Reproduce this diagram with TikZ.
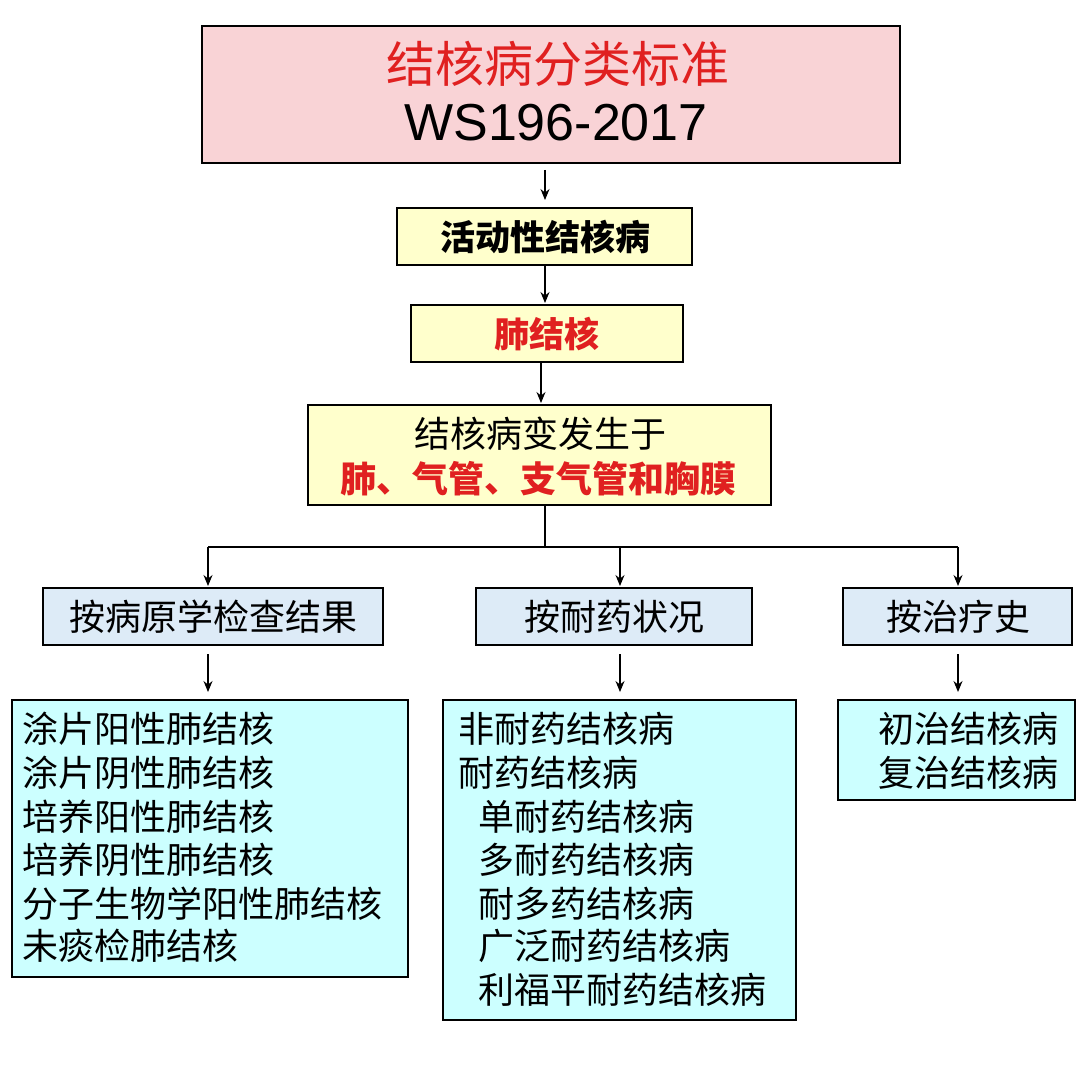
\documentclass[tikz,border=0pt]{standalone}
\usepackage{fontspec}
\setmainfont{Noto Sans CJK SC}
\newfontfamily\wsfont{Liberation Sans}
\usetikzlibrary{arrows.meta}
\definecolor{pinkf}{HTML}{F9D3D6}
\definecolor{yel}{HTML}{FFFFCC}
\definecolor{blu}{HTML}{DDEBF7}
\definecolor{cya}{HTML}{CCFFFF}
\definecolor{rd}{HTML}{E02020}
\tikzset{x=1pt,y=-1pt,
 bx/.style={draw=black,line width=1.2pt},
 ar/.style={-{Stealth[length=11pt,width=9pt]},line width=1.1pt},
 tx/.style={inner sep=0pt,anchor=west,font=\fontsize{36}{40}\selectfont}}
\begin{document}
\begin{tikzpicture}
\useasboundingbox (0,0) rectangle (1080,1083);
\fill[white] (0,0) rectangle (1080,1083);
\draw[bx,fill=pinkf] (202,26) rectangle (900,163);
\node[inner sep=0pt,text=rd,font=\fontsize{49}{52}\selectfont] (t1) at (558,64) {结核病分类标准};
\node[inner sep=0pt,font=\wsfont\fontsize{52}{56}\selectfont] (t2) at (556,123) {WS196-2017};
\draw[bx,fill=yel] (397,208) rectangle (692,265);
\node[inner sep=0pt,font=\bfseries\fontsize{35}{38}\selectfont] (b2) at (545,237) {活动性结核病};
\draw[bx,fill=yel] (411,305) rectangle (683,362);
\node[inner sep=0pt,text=rd,font=\bfseries\fontsize{35}{38}\selectfont] (b3) at (547,334) {肺结核};
\draw[bx,fill=yel] (308,405) rectangle (771,505);
\node[inner sep=0pt,font=\fontsize{36}{40}\selectfont] (b4a) at (540,434) {结核病变发生于};
\node[inner sep=0pt,text=rd,font=\bfseries\fontsize{36}{40}\selectfont] (b4b) at (538,479) {肺、气管、支气管和胸膜};
\coordinate (a1s) at (545,170); \coordinate (a1e) at (545,200);
\draw[ar] (a1s) -- (a1e);
\coordinate (a2s) at (545,265); \coordinate (a2e) at (545,303);
\draw[ar] (a2s) -- (a2e);
\coordinate (a3s) at (541,362); \coordinate (a3e) at (541,403);
\draw[ar] (a3s) -- (a3e);
\coordinate (s0) at (545,505); \coordinate (s1) at (545,547);
\coordinate (hl) at (208,547); \coordinate (hr) at (958,547); \coordinate (hm) at (620,547);
\draw[line width=1.1pt] (s0)--(s1) (hl)--(hr);
\coordinate (e1) at (208,586); \coordinate (e2) at (620,586); \coordinate (e3) at (958,586);
\draw[ar] (hl)--(e1); \draw[ar] (hm)--(e2); \draw[ar] (hr)--(e3);
\draw[bx,fill=blu] (43,588) rectangle (383,645);
\node[inner sep=0pt,font=\fontsize{36}{40}\selectfont] (c1) at (213,617) {按病原学检查结果};
\draw[bx,fill=blu] (476,588) rectangle (752,645);
\node[inner sep=0pt,font=\fontsize{36}{40}\selectfont] (c2) at (614,617) {按耐药状况};
\draw[bx,fill=blu] (843,588) rectangle (1072,645);
\node[inner sep=0pt,font=\fontsize{36}{40}\selectfont] (c3) at (958,617) {按治疗史};
\coordinate (f1s) at (208,654); \coordinate (f1e) at (208,692);
\coordinate (f2s) at (620,654); \coordinate (f2e) at (620,692);
\coordinate (f3s) at (958,654); \coordinate (f3e) at (958,692);
\draw[ar] (f1s)--(f1e); \draw[ar] (f2s)--(f2e); \draw[ar] (f3s)--(f3e);
\draw[bx,fill=cya] (12,700) rectangle (408,977);
\draw[bx,fill=cya] (443,700) rectangle (796,1020);
\draw[bx,fill=cya] (838,700) rectangle (1075,800);
\node[tx] (l1) at (22,729) {涂片阳性肺结核};
\node[tx] (l2) at (22,773) {涂片阴性肺结核};
\node[tx] (l3) at (22,817) {培养阳性肺结核};
\node[tx] (l4) at (22,860) {培养阴性肺结核};
\node[tx] (l5) at (22,904) {分子生物学阳性肺结核};
\node[tx] (l6) at (22,946) {未痰检肺结核};
\node[tx] (m1) at (458,729) {非耐药结核病};
\node[tx] (m2) at (458,773) {耐药结核病};
\node[tx] (m3) at (478,817) {单耐药结核病};
\node[tx] (m4) at (478,860) {多耐药结核病};
\node[tx] (m5) at (478,904) {耐多药结核病};
\node[tx] (m6) at (478,946) {广泛耐药结核病};
\node[tx] (m7) at (478,990) {利福平耐药结核病};
\node[tx] (r1) at (878,729) {初治结核病};
\node[tx] (r2) at (878,773) {复治结核病};
\end{tikzpicture}
\end{document}
